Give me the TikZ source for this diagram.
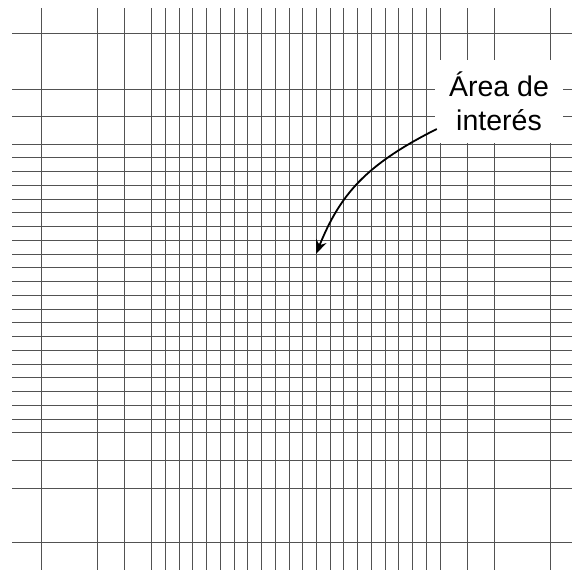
\documentclass[tikz,border=0pt]{standalone}
\usepackage{fontspec}
\setmainfont{Liberation Sans}
\usetikzlibrary{arrows.meta}
\begin{document}
\begin{tikzpicture}[x=1pt,y=-1pt,
  gridline/.style={draw=black!68,line width=1pt},
  labelbox/.style={fill=white,inner sep=0pt,minimum width=128pt,minimum height=83pt,align=center,font=\fontsize{28.5}{34.4}\selectfont},
  pointer/.style={draw=black,line width=1.8pt,-{Stealth[length=14pt,width=11pt]}}]
\useasboundingbox (0,0) rectangle (572,570);
% vertical lines
\foreach \x in {41.7,97,124.3,467.4,494.7,550}
  \draw[gridline] (\x,8) -- (\x,570);
\foreach \i in {0,...,21}
  \draw[gridline] ({151.7+13.73*\i},8) -- ({151.7+13.73*\i},570);
% horizontal lines
\foreach \y in {33.7,89,116.5,460.5,488,542.7}
  \draw[gridline] (12,\y) -- (572,\y);
\foreach \i in {0,...,21}
  \draw[gridline] (12,{144+13.76*\i}) -- (572,{144+13.76*\i});
% label
\node[labelbox] (lab) at (499,101.5) {Área de\\interés};
\coordinate (tip) at (316,254);
\draw[pointer] ([shift={(2,27.5)}]lab.west) .. controls (365,165) and (340,195) .. (tip);
\end{tikzpicture}
\end{document}
